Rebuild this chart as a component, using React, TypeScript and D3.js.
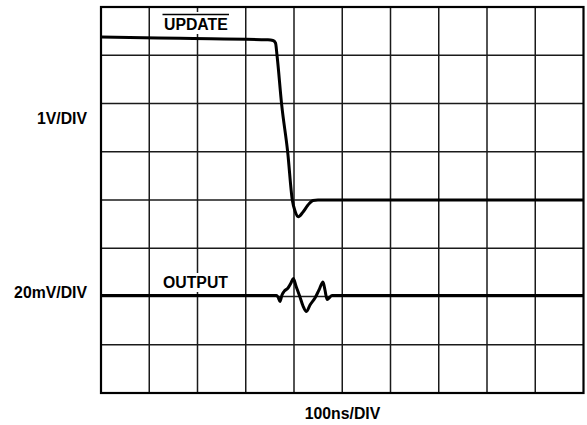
import React from 'react';
import * as d3 from 'd3';

const width = 587;
const height = 425;
const plot = { left: 101, right: 583.5, top: 7, bottom: 393 };

// time in ns (100ns/DIV, 10 divisions)
const updateTime = [0, 164, 346, 356.5, 361.7, 364.8, 374.5, 386.9, 396.5, 402.1, 408.9, 418.7, 429, 439.4, 449.7, 1000];
// level in divisions from screen centre
const updateLevel = [3.38, 3.35, 3.32, 3.306, 3.254, 3.0, 1.97, 0.995, 0, -0.228, -0.346, -0.249, -0.104, -0.01, 0, 0];

const outputTime = [0, 363.7, 366.8, 371, 375.1, 379.3, 387.6, 393.8, 398.5, 404.1, 412.4, 418.7, 425.9, 433.2, 443.5, 451.8, 460.1, 464.2, 468.4, 472.5, 478.8, 1000];
const outputLevel = [-1.979, -1.979, -2.01, -2.104, -1.969, -1.896, -1.824, -1.72, -1.627, -1.782, -2.01, -2.197, -2.311, -2.176, -2.031, -1.865, -1.699, -1.865, -2.062, -2.031, -1.979, -1.979];

const xDivs = d3.range(0, 11);
const yDivs = d3.range(-4, 5);

const font = '"Liberation Sans", Arial, Helvetica, sans-serif';

export default function App() {
  const x = d3.scaleLinear().domain([0, 1000]).range([plot.left, plot.right]);
  const y = d3.scaleLinear().domain([4, -4]).range([plot.top, plot.bottom]);
  const xDiv = d3.scaleLinear().domain([0, 10]).range([plot.left, plot.right]);

  const trace = (t: number[], v: number[]) =>
    d3
      .line<[number, number]>()
      .x(d => x(d[0]))
      .y(d => y(d[1]))
      .curve(d3.curveMonotoneX)(t.map((d, i) => [d, v[i]] as [number, number]));

  return (
    <svg width={width} height={height} style={{ position: 'absolute', left: 0, top: 0, background: '#fff' }}>
      <g stroke="#1a1a1a" strokeWidth={1.5}>
        {xDivs.slice(1, -1).map(d => (
          <line key={'v' + d} x1={xDiv(d)} x2={xDiv(d)} y1={plot.top} y2={plot.bottom} />
        ))}
        {yDivs.slice(1, -1).map(d => (
          <line key={'h' + d} x1={plot.left} x2={plot.right} y1={y(d)} y2={y(d)} />
        ))}
      </g>
      <rect
        x={plot.left}
        y={plot.top}
        width={plot.right - plot.left}
        height={plot.bottom - plot.top}
        fill="none"
        stroke="#000"
        strokeWidth={2.2}
      />
      <path d={trace(updateTime, updateLevel) || ''} fill="none" stroke="#000" strokeWidth={3} strokeLinejoin="round" />
      <path d={trace(outputTime, outputLevel) || ''} fill="none" stroke="#000" strokeWidth={3} strokeLinejoin="round" />
      <g fontFamily={font} fontWeight="bold" fontSize={15.8} fill="#000">
        <rect x={162} y={12} width={68} height={22} fill="#fff" />
        <text x={164} y={30}>UPDATE</text>
        <line x1={162.5} x2={229} y1={14.5} y2={14.5} stroke="#000" strokeWidth={1.5} />
        <rect x={161} y={273} width={68} height={19} fill="#fff" />
        <text x={163} y={288}>OUTPUT</text>
        <text x={87} y={124} textAnchor="end">1V/DIV</text>
        <text x={87} y={297.5} textAnchor="end">20mV/DIV</text>
        <text x={342.5} y={418.5} textAnchor="middle">100ns/DIV</text>
      </g>
    </svg>
  );
}
